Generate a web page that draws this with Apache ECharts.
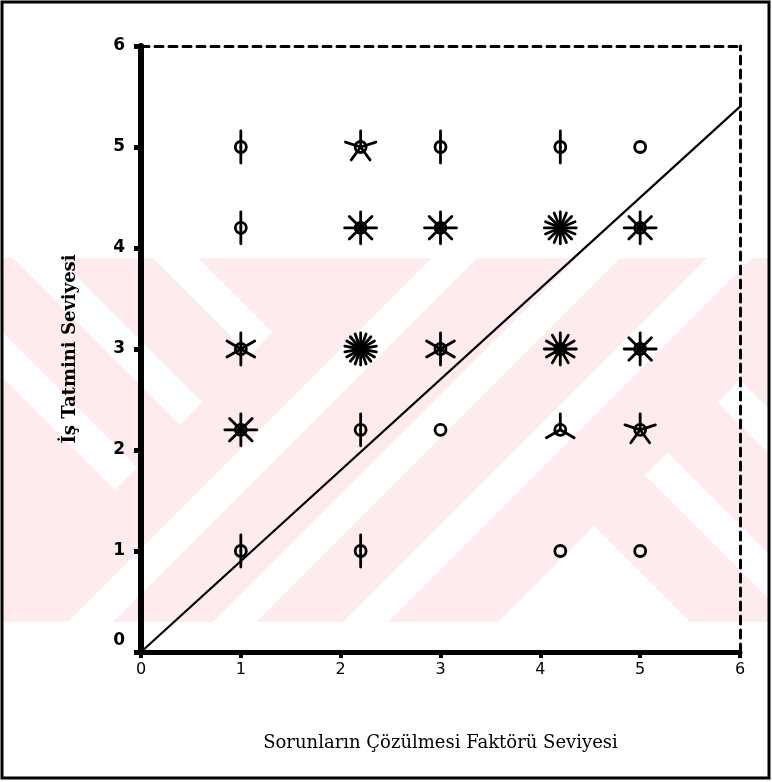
<!DOCTYPE html>
<html>
<head>
<meta charset="utf-8">
<script src="https://cdn.jsdelivr.net/npm/echarts@6/dist/echarts.min.js"></script>
<style>html,body{margin:0;padding:0;background:#fff;}#c{width:772px;height:782px;}</style>
</head>
<body>
<div id="c"></div>
<script>
// ---- data ----
const xTitle = 'Sorunların Çözülmesi Faktörü Seviyesi';
const yTitle = 'İş Tatmini Seviyesi';
const axisTicks = [0, 1, 2, 3, 4, 5, 6];
// sunflower points: x level, y level, number of observations (petals)
const pointX = [1, 2.2, 3, 4.2, 5,   1, 2.2, 3, 4.2, 5,   1, 2.2, 3, 4.2, 5,   1, 2.2, 3, 4.2, 5,   1, 2.2, 4.2, 5];
const pointY = [5, 5, 5, 5, 5,       4.2, 4.2, 4.2, 4.2, 4.2,   3, 3, 3, 3, 3,   2.2, 2.2, 2.2, 2.2, 2.2,   1, 1, 1, 1];
const pointCount = [2, 5, 2, 2, 1,   2, 8, 8, 16, 8,   6, 18, 6, 12, 8,   8, 2, 1, 3, 5,   2, 2, 1, 1];
// fitted line
const lineX = [0, 6];
const lineY = [0, 5.4];

// ---- build ----
const sunData = pointX.map((x, i) => [x, pointY[i], pointCount[i]]);
const lineData = lineX.map((x, i) => [x, lineY[i]]);

function clipPoly(poly, a, b, k) {
  const out = [];
  for (let i = 0; i < poly.length; i++) {
    const P = poly[i], Q = poly[(i + 1) % poly.length];
    const fp = a * P[0] + b * P[1] - k, fq = a * Q[0] + b * Q[1] - k;
    if (fp <= 0) out.push(P);
    if ((fp < 0 && fq > 0) || (fp > 0 && fq < 0)) {
      const t = fp / (fp - fq);
      out.push([P[0] + (Q[0] - P[0]) * t, P[1] + (Q[1] - P[1]) * t]);
    }
  }
  return out;
}
// watermark (decorative background band)
const band = [[3, 258], [769, 258], [769, 622], [3, 622]];
function region(cMin, cMax, dMin, dMax) {
  let p = band;
  if (cMin != null) p = clipPoly(p, -1, -1, -cMin);
  if (cMax != null) p = clipPoly(p, 1, 1, cMax);
  if (dMin != null) p = clipPoly(p, 1, -1, -dMin);
  if (dMax != null) p = clipPoly(p, -1, 1, dMax);
  return p;
}
const whiteRegions = [
  region(690, 735, null, null),
  region(835, 878, null, null),
  region(965, 1010, null, null),
  region(1120, null, -68, null),
  region(1120, null, -215, -170),
  region(1120, null, -360, -315),
  region(null, 605, 200, 245),
  region(null, 605, 330, 375),
  region(null, 605, 60, 105)
];
const graphics = [{
  type: 'polygon', z: -10, silent: true,
  shape: { points: band }, style: { fill: '#fdebee' }
}];
whiteRegions.forEach(p => {
  if (p.length > 2) graphics.push({ type: 'polygon', z: -9, silent: true, shape: { points: p }, style: { fill: '#ffffff' } });
});
graphics.push({
  type: 'rect', z: 100, silent: true,
  shape: { x: 2, y: 2, width: 767, height: 776 },
  style: { fill: 'none', stroke: '#000', lineWidth: 3 }
});

function renderSun(params, api) {
  const c = api.coord([api.value(0), api.value(1)]);
  const n = api.value(2);
  const children = [{
    type: 'circle',
    shape: { cx: c[0], cy: c[1], r: 5.5 },
    style: { fill: 'none', stroke: '#000', lineWidth: 2.8 }
  }];
  if (n >= 2) {
    const L = 16;
    for (let k = 0; k < n; k++) {
      const a = Math.PI / 2 + k * 2 * Math.PI / n;
      children.push({
        type: 'line',
        shape: { x1: c[0], y1: c[1], x2: c[0] + L * Math.cos(a), y2: c[1] - L * Math.sin(a) },
        style: { stroke: '#000', lineWidth: 2.8, lineCap: 'round' }
      });
    }
  }
  return { type: 'group', children: children };
}

const chart = echarts.init(document.getElementById('c'), null, { renderer: 'canvas' });
const labelFont = { color: '#000', fontFamily: 'DejaVu Sans', fontWeight: 'bold', fontSize: 17 };
chart.setOption({
  animation: false,
  backgroundColor: '#fff',
  graphic: graphics,
  grid: { left: 141, top: 46, right: 32, bottom: 130, containLabel: false },
  xAxis: [{
    type: 'value', min: 0, max: 6, interval: 1, position: 'bottom',
    name: xTitle, nameLocation: 'middle', nameGap: 82,
    nameTextStyle: { color: '#000', fontFamily: 'DejaVu Serif', fontSize: 18 },
    axisLine: { show: true, onZero: false, lineStyle: { color: '#000', width: 5 } },
    axisTick: { show: true, length: 6, lineStyle: { color: '#000', width: 4 } },
    axisLabel: { color: '#000', fontFamily: 'DejaVu Sans', fontSize: 16, margin: 10,
      formatter: v => axisTicks.includes(v) ? String(v) : '' },
    splitLine: { show: false }
  }, {
    type: 'value', min: 0, max: 6, interval: 1, position: 'top',
    axisLine: { show: true, onZero: false, lineStyle: { color: '#000', width: 3, type: [8, 6] } },
    axisTick: { show: false }, axisLabel: { show: false }, splitLine: { show: false }
  }],
  yAxis: [{
    type: 'value', min: 0, max: 6, interval: 1, position: 'left',
    name: yTitle, nameLocation: 'middle', nameGap: 62,
    nameTextStyle: { color: '#000', fontFamily: 'DejaVu Serif', fontWeight: 'bold', fontSize: 18 },
    axisLine: { show: true, onZero: false, lineStyle: { color: '#000', width: 6 } },
    axisTick: { show: true, length: 7, lineStyle: { color: '#000', width: 5 } },
    axisLabel: Object.assign({
      margin: 16,
      formatter: v => !axisTicks.includes(v) ? '' : (v === 0 ? '{z|0}' : String(v)),
      rich: { z: { fontFamily: 'DejaVu Sans', fontWeight: 'bold', fontSize: 17, color: '#000', padding: [0, 0, 22, 0] } }
    }, labelFont),
    splitLine: { show: false }
  }, {
    type: 'value', min: 0, max: 6, interval: 1, position: 'right',
    axisLine: { show: true, onZero: false, lineStyle: { color: '#000', width: 3, type: [8, 6] } },
    axisTick: { show: false }, axisLabel: { show: false }, splitLine: { show: false }
  }],
  series: [{
    type: 'line', data: lineData, symbol: 'none', silent: true,
    lineStyle: { color: '#000', width: 2.2 }, z: 3
  }, {
    type: 'custom', data: sunData, renderItem: renderSun, z: 4, silent: true,
    encode: { x: 0, y: 1 }
  }]
});
</script>
</body>
</html>
